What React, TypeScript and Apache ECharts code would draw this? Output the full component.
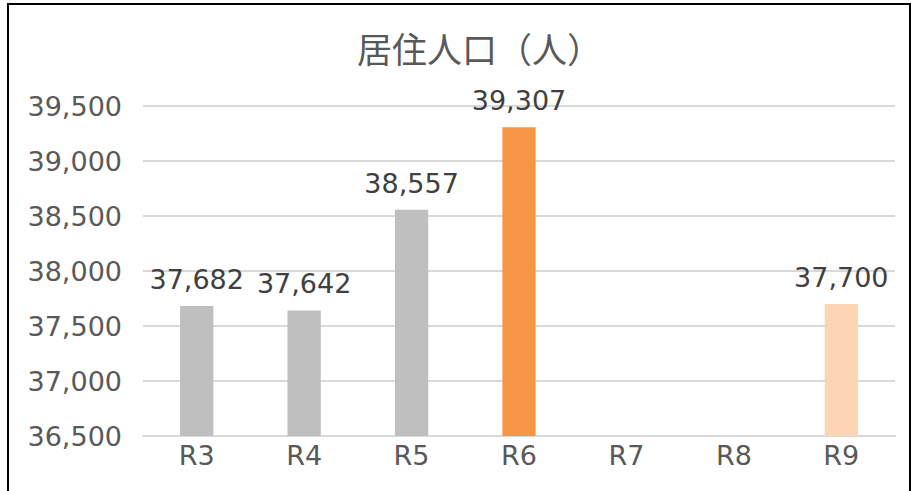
import React, { useEffect, useRef } from "react";
import * as echarts from "echarts";

const categories = ["R3", "R4", "R5", "R6", "R7", "R8", "R9"];
const values: (number | null)[] = [37682, 37642, 38557, 39307, null, null, 37700];
const barColors = ["#BFBFBF", "#BFBFBF", "#BFBFBF", "#F79646", "#BFBFBF", "#BFBFBF", "#FCD5B5"];
const titleText = "居住人口（人）";

const fontFamily = "DejaVu Sans";

export default function App() {
  const ref = useRef<HTMLDivElement>(null);
  useEffect(() => {
    if (!ref.current) return;
    const chart = echarts.init(ref.current, undefined, { renderer: "svg" });
    chart.setOption({
      animation: false,
      backgroundColor: "#ffffff",
      title: {
        text: titleText,
        left: 352,
        top: 25,
        textStyle: {
          fontFamily: "Noto Sans CJK JP",
          fontSize: 35,
          fontWeight: "normal",
          color: "#595959",
        },
      },
      grid: { left: 143, right: 16, top: 106, bottom: 55, containLabel: false },
      xAxis: {
        type: "category",
        data: categories,
        axisLine: { show: true, lineStyle: { color: "#D9D9D9", width: 2 } },
        axisTick: { show: false },
        axisLabel: { color: "#595959", fontSize: 27, fontFamily, margin: 6 },
      },
      yAxis: {
        type: "value",
        min: 36500,
        max: 39500,
        interval: 500,
        axisLine: { show: false },
        axisTick: { show: false },
        splitLine: { lineStyle: { color: "#D9D9D9", width: 2 } },
        axisLabel: {
          color: "#595959",
          fontSize: 27,
          fontFamily,
          margin: 21,
          formatter: (v: number) => v.toLocaleString("en-US"),
        },
      },
      series: [
        {
          type: "bar",
          barWidth: "31%",
          data: values.map((v, i) => ({ value: v, itemStyle: { color: barColors[i] } })),
          label: {
            show: true,
            position: "top",
            distance: 13,
            color: "#404040",
            fontSize: 27,
            fontFamily,
            formatter: (p: any) => (p.value == null ? "" : Number(p.value).toLocaleString("en-US")),
          },
        },
      ],
      graphic: [
        {
          type: "rect",
          shape: { x: 8, y: 4, width: 902, height: 600 },
          style: { fill: "none", stroke: "#000000", lineWidth: 2 },
          silent: true,
          z: 100,
        },
      ],
    });
    return () => chart.dispose();
  }, []);
  return (
    <div
      ref={ref}
      style={{ position: "fixed", left: 0, top: 0, width: 911, height: 491, background: "#fff" }}
    />
  );
}
